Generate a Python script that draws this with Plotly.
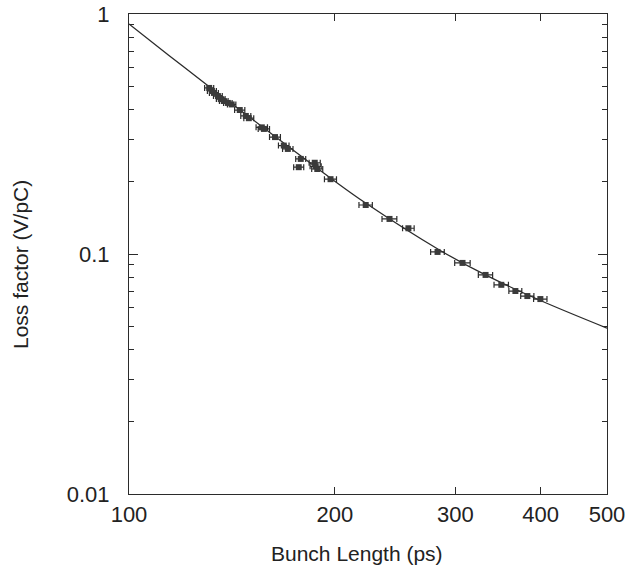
import plotly.graph_objects as go

# measured loss factor vs bunch length
bunch_len = [131.0, 132.2, 133.1, 134.9, 136.2, 137.6, 139.5, 141.3, 145.2, 148.2,
             149.7, 156.4, 157.5, 163.5, 168.4, 170.7, 178.3, 177.1, 186.9, 187.5,
             188.5, 197.1, 221.9, 240.4, 256.2, 282.6, 307.4, 332.2, 350.3, 367.3,
             382.4, 399.5]
loss = [0.492, 0.478, 0.469, 0.455, 0.442, 0.434, 0.426, 0.420, 0.398, 0.376,
        0.368, 0.337, 0.332, 0.307, 0.283, 0.274, 0.249, 0.230, 0.240, 0.232,
        0.226, 0.205, 0.160, 0.140, 0.128, 0.102, 0.0918, 0.0818, 0.0744, 0.0701,
        0.0668, 0.0649]
len_err = [2, 2, 2, 2, 2, 2, 2, 2, 2.5, 2.5,
           2.5, 3, 3, 3, 3, 3, 3, 3, 3.5, 3.5,
           3.5, 4, 5, 6, 5, 6.5, 8, 8, 8.5, 8,
           8.5, 9]

# fitted curve
fit_len = [100, 114.4, 130.9, 156.4, 197.2, 221.8, 284.4, 332.0, 398.1, 500]
fit_loss = [0.909, 0.672, 0.499, 0.340, 0.207, 0.163, 0.1039, 0.0818, 0.0643, 0.0491]

ink = "#2b2b2b"

fig = go.Figure()
fig.add_trace(go.Scatter(
    x=fit_len, y=fit_loss, mode="lines",
    line=dict(color=ink, width=1.3, shape="spline"),
    hoverinfo="skip",
))
fig.add_trace(go.Scatter(
    x=bunch_len, y=loss, mode="markers",
    marker=dict(symbol="square", size=6, color="#3a3a3a"),
    error_x=dict(type="data", array=len_err, visible=True,
                 color=ink, thickness=1.2, width=3),
))

fig.update_layout(
    width=629, height=571,
    margin=dict(l=129, r=22, t=14, b=77),
    paper_bgcolor="white", plot_bgcolor="white",
    showlegend=False,
    font=dict(family="Liberation Sans, Arial, sans-serif", color="#222", size=22),
)
fig.update_xaxes(
    type="log", range=[2, 2.69897], automargin=False,
    tickvals=[100, 200, 300, 400, 500], ticktext=["100", "200", "300", "400", "500"],
    ticks="inside", ticklen=7, tickcolor=ink, tickwidth=1,
    showline=True, linecolor=ink, linewidth=1.2, mirror="ticks",
    showgrid=False, zeroline=False,
    ticklabeloverflow="allow",
    tickfont=dict(size=22),
)
fig.update_yaxes(
    type="log", range=[-2, 0], automargin=False,
    tickvals=[0.01, 0.1, 1], ticktext=["0.01", "0.1", "1"],
    ticks="inside", ticklen=9, tickcolor=ink, tickwidth=1,
    minor=dict(ticks="inside", ticklen=5, tickcolor=ink,
               tickvals=[0.02, 0.03, 0.04, 0.05, 0.06, 0.07, 0.08, 0.09,
                         0.2, 0.3, 0.4, 0.5, 0.6, 0.7, 0.8, 0.9]),
    showline=True, linecolor=ink, linewidth=1.2, mirror="ticks",
    showgrid=False, zeroline=False,
    ticklabelstandoff=14, ticklabeloverflow="allow",
    tickfont=dict(size=22),
)

# axis titles placed as annotations so they sit where the original has them
fig.add_annotation(text="Bunch Length (ps)", xref="paper", yref="paper",
                   x=0.5, y=0, xshift=-11, yshift=-59, showarrow=False,
                   xanchor="center", yanchor="middle", font=dict(size=21))
fig.add_annotation(text="Loss factor (V/pC)", xref="paper", yref="paper",
                   x=0, y=0.5, xshift=-109, yshift=-11, textangle=-90,
                   xanchor="center", yanchor="middle",
                   showarrow=False, font=dict(size=21))

# drop the default 8px page margin so the figure fills the window exactly
fig.write_html("out.html", config={"displayModeBar": False},
               post_script="document.body.style.margin='0';")
